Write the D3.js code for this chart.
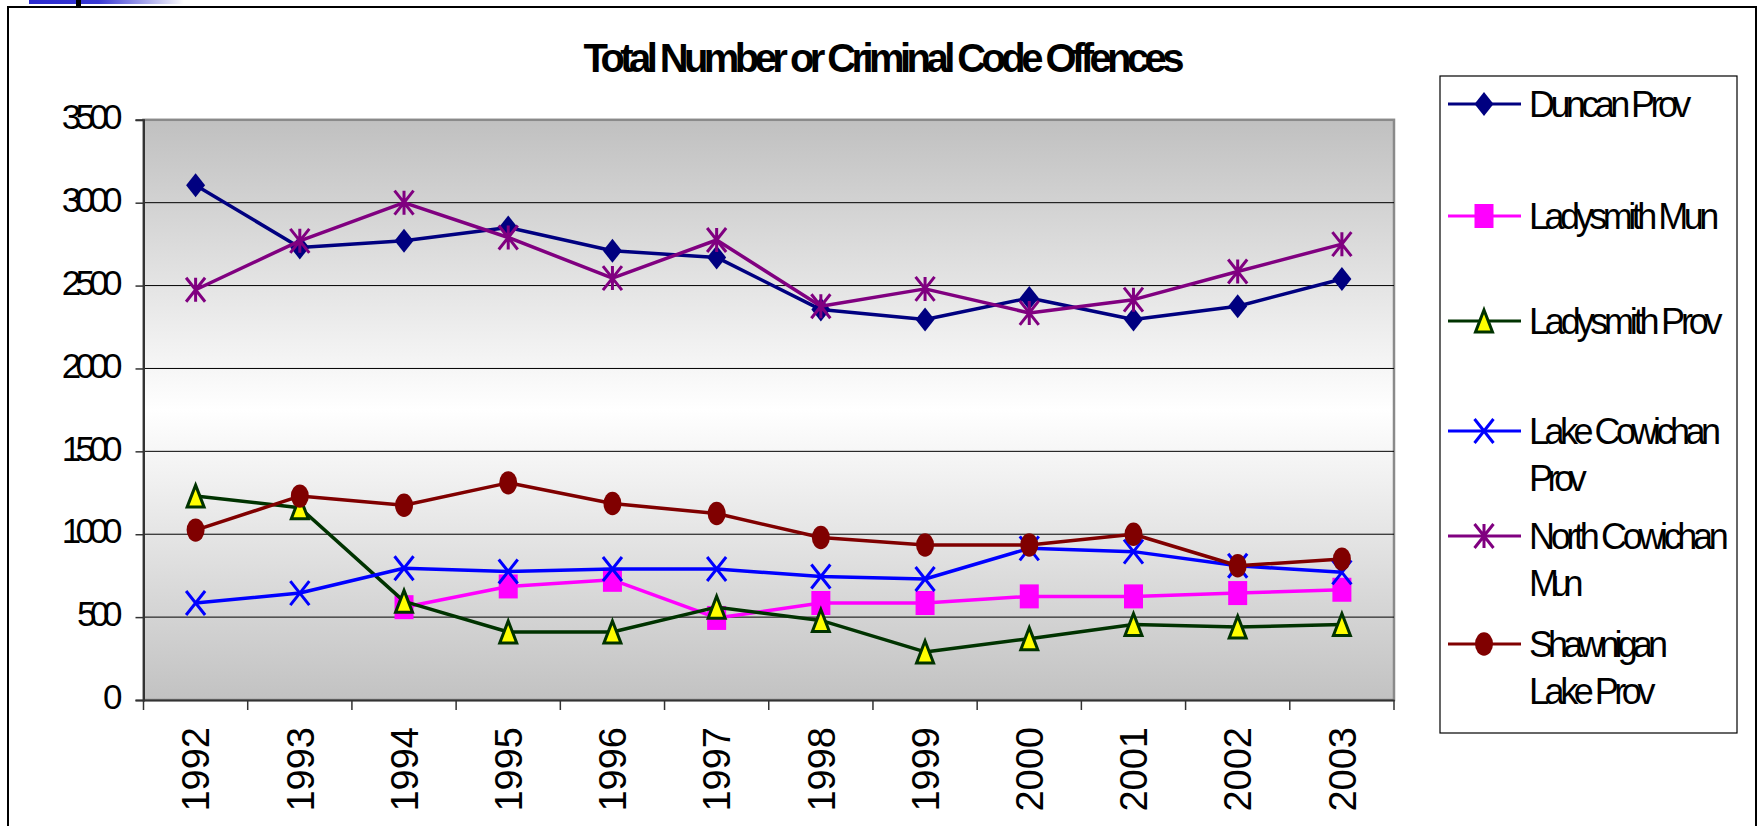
<!DOCTYPE html>
<html>
<head>
<meta charset="utf-8">
<script src="https://cdn.jsdelivr.net/npm/d3@7"></script>
<style>
  body { margin: 0; background: #fff; }
  svg { display: block; font-family: "Liberation Sans", Arial, sans-serif; }
</style>
</head>
<body>
<div id="container"></div>
<script>
// data
var years = ["1992","1993","1994","1995","1996","1997","1998","1999","2000","2001","2002","2003"];
var duncanProv     = [3105, 2730, 2770, 2850, 2710, 2670, 2355, 2295, 2425, 2295, 2375, 2540];
var ladysmithMun   = [null, null, 560, 685, 725, 495, 585, 585, 625, 625, 645, 665];
var ladysmithProv  = [1230, 1160, 595, 410, 410, 560, 480, 290, 370, 455, 440, 455];
var lakeCowichan   = [585, 645, 795, 775, 790, 790, 745, 730, 915, 895, 810, 770];
var northCowichan  = [2475, 2770, 3000, 2790, 2545, 2775, 2375, 2480, 2335, 2415, 2585, 2750];
var shawnigan      = [1025, 1230, 1175, 1310, 1185, 1125, 980, 935, 935, 1000, 810, 850];
var yTicks = [0, 500, 1000, 1500, 2000, 2500, 3000, 3500];

var series = [
  { name: ["Duncan Prov"], values: duncanProv, color: "#000080", marker: "diamond", fill: "#000080" },
  { name: ["Ladysmith Mun"], values: ladysmithMun, color: "#FF00FF", marker: "square", fill: "#FF00FF" },
  { name: ["Ladysmith Prov"], values: ladysmithProv, color: "#003300", marker: "triangle", fill: "#FFFF00" },
  { name: ["Lake Cowichan", "Prov"], values: lakeCowichan, color: "#0000FF", marker: "x", fill: "none" },
  { name: ["North Cowichan", "Mun"], values: northCowichan, color: "#800080", marker: "star", fill: "none" },
  { name: ["Shawnigan", "Lake Prov"], values: shawnigan, color: "#800000", marker: "circle", fill: "#800000" }
];

var width = 1762, height = 826;
var tight = 0.78;   // the original packs its letters very tightly

// squeeze the spacing of a text to a share of its natural length
function tighten(sel, k) {
  sel.each(function() {
    var L = this.getComputedTextLength();
    d3.select(this).attr("textLength", L * k).attr("lengthAdjust", "spacing");
  });
}

var svg = d3.select("#container").append("svg")
    .attr("width", width)
    .attr("height", height);

var defs = svg.append("defs");
var bg = defs.append("linearGradient").attr("id", "plotbg")
    .attr("x1", 0).attr("y1", 0).attr("x2", 0).attr("y2", 1);
bg.append("stop").attr("offset", "0%").attr("stop-color", "#c0c0c0");
bg.append("stop").attr("offset", "50%").attr("stop-color", "#ffffff");
bg.append("stop").attr("offset", "100%").attr("stop-color", "#c2c2c2");

var bar = defs.append("linearGradient").attr("id", "topbar");
bar.append("stop").attr("offset", "0%").attr("stop-color", "#2a2ad0");
bar.append("stop").attr("offset", "45%").attr("stop-color", "#3a3ad4");
bar.append("stop").attr("offset", "100%").attr("stop-color", "#ffffff");

// leftover bits of the slide at the top edge
svg.append("rect").attr("x", 29).attr("y", 0).attr("width", 155).attr("height", 4).attr("fill", "url(#topbar)");
svg.append("rect").attr("x", 76).attr("y", 0).attr("width", 5).attr("height", 6).attr("fill", "#000");

// outer chart frame
svg.append("rect")
    .attr("x", 8).attr("y", 7)
    .attr("width", 1748).attr("height", 850)
    .attr("fill", "#fff")
    .attr("stroke", "#000").attr("stroke-width", 2);

var plot = { left: 143.5, top: 119.8, right: 1394, bottom: 700 };

var x = d3.scaleBand().domain(years).range([plot.left, plot.right]);
var y = d3.scaleLinear().domain([0, 3500]).range([plot.bottom, plot.top]);

// title
var title = svg.append("text")
    .attr("x", 884).attr("y", 72)
    .attr("text-anchor", "middle")
    .attr("font-size", 40)
    .attr("font-weight", "bold")
    .text("Total Number or Criminal Code Offences");
tighten(title, tight);

// plot area
svg.append("rect")
    .attr("x", plot.left).attr("y", plot.top)
    .attr("width", plot.right - plot.left).attr("height", plot.bottom - plot.top)
    .attr("fill", "url(#plotbg)")
    .attr("stroke", "#8a8a8a").attr("stroke-width", 2.5);

// gridlines
svg.append("g").selectAll("line")
    .data(yTicks.filter(function(d) { return d > 0 && d < 3500; }))
    .enter().append("line")
    .attr("x1", plot.left).attr("x2", plot.right)
    .attr("y1", function(d) { return y(d); })
    .attr("y2", function(d) { return y(d); })
    .attr("stroke", "#000").attr("stroke-width", 1);

// y axis
var yAxis = svg.append("g")
    .attr("transform", "translate(" + plot.left + ",0)")
    .call(d3.axisLeft(y).tickValues(yTicks).tickSize(8).tickFormat(d3.format("d")));
yAxis.select(".domain").attr("stroke", "#333").attr("stroke-width", 2);
yAxis.selectAll(".tick line").attr("stroke", "#333").attr("stroke-width", 1.5);
var yLabels = yAxis.selectAll(".tick text")
    .attr("x", -21)
    .attr("y", -3.5)
    .attr("dy", "0.35em")
    .attr("font-size", 35)
    .attr("fill", "#000");
tighten(yLabels, tight);

// x axis: ticks between categories, labels rotated
var xAxis = svg.append("g")
    .attr("transform", "translate(0," + plot.bottom + ")")
    .call(d3.axisBottom(x).tickSize(0));
xAxis.select(".domain").attr("stroke", "#333").attr("stroke-width", 2);
xAxis.selectAll(".tick text")
    .attr("y", null)
    .attr("x", -27)
    .attr("dy", "0.36em")
    .attr("transform", "rotate(-90)")
    .attr("text-anchor", "end")
    .attr("font-size", 38)
    .attr("fill", "#000");
xAxis.append("g").selectAll("line")
    .data(years.concat(["end"]))
    .enter().append("line")
    .attr("x1", function(d, i) { return plot.left + i * x.step(); })
    .attr("x2", function(d, i) { return plot.left + i * x.step(); })
    .attr("y1", 0).attr("y2", 10)
    .attr("stroke", "#333").attr("stroke-width", 1.5);

// marker shapes
var mw = 9.5, mh = 12;
function markerPath(type) {
  if (type == "diamond") return "M0," + (-mh) + "L" + mw + ",0L0," + mh + "L" + (-mw) + ",0Z";
  if (type == "square") return "M" + (-mw) + "," + (-mh) + "H" + mw + "V" + mh + "H" + (-mw) + "Z";
  if (type == "triangle") return "M0," + (-mh + 1) + "L" + (mw - 1) + "," + (mh - 1) + "L" + (-mw + 1) + "," + (mh - 1) + "Z";
  if (type == "x") return "M" + (-mw) + "," + (-mh) + "L" + mw + "," + mh + "M" + (-mw) + "," + mh + "L" + mw + "," + (-mh);
  if (type == "star") return "M" + (-mw) + "," + (-mh) + "L" + mw + "," + mh + "M" + (-mw) + "," + mh + "L" + mw + "," + (-mh) + "M0," + (-mh) + "V" + mh;
  return null;
}

function drawMarker(sel, s) {
  if (s.marker == "circle") {
    sel.append("ellipse").attr("rx", 9).attr("ry", 11.7).attr("fill", s.fill);
  } else {
    sel.append("path")
      .attr("d", markerPath(s.marker))
      .attr("fill", s.fill)
      .attr("stroke", s.color)
      .attr("stroke-width", s.marker == "triangle" ? 3 : (s.marker == "x" || s.marker == "star") ? 3 : 0)
      .attr("stroke-linejoin", "miter");
  }
}

var line = d3.line()
    .defined(function(d) { return d != null; })
    .x(function(d, i) { return x(years[i]) + x.bandwidth() / 2; })
    .y(function(d) { return y(d); });

var seriesG = svg.append("g").selectAll("g")
    .data(series)
    .enter().append("g");

seriesG.each(function(s) {
  var g = d3.select(this);
  g.append("path")
    .attr("d", line(s.values))
    .attr("fill", "none")
    .attr("stroke", s.color)
    .attr("stroke-width", 3.5)
    .attr("stroke-linejoin", "round");
  s.values.forEach(function(v, i) {
    if (v == null) return;
    var m = g.append("g")
      .attr("transform", "translate(" + (x(years[i]) + x.bandwidth() / 2) + "," + y(v) + ")");
    drawMarker(m, s);
  });
});

// legend
var legendRows = [104, 216, 321, 431, 536, 644];
var legend = svg.append("g");
legend.append("rect")
    .attr("x", 1440).attr("y", 76)
    .attr("width", 297).attr("height", 657)
    .attr("fill", "#fff")
    .attr("stroke", "#000").attr("stroke-width", 1.2);

var items = legend.selectAll("g.item")
    .data(series)
    .enter().append("g")
    .attr("class", "item")
    .attr("transform", function(d, i) { return "translate(0," + legendRows[i] + ")"; });

items.append("line")
    .attr("x1", 1448).attr("x2", 1521)
    .attr("y1", 0).attr("y2", 0)
    .attr("stroke", function(d) { return d.color; })
    .attr("stroke-width", 3);

items.each(function(s) {
  var m = d3.select(this).append("g").attr("transform", "translate(1484,0)");
  drawMarker(m, s);
});

items.each(function(s) {
  var g = d3.select(this);
  s.name.forEach(function(t, j) {
    var txt = g.append("text")
      .attr("x", 1529)
      .attr("y", j * 47)
      .attr("dy", "0.35em")
      .attr("font-size", 36)
      .text(t);
    tighten(txt, tight);
  });
});
</script>
</body>
</html>
